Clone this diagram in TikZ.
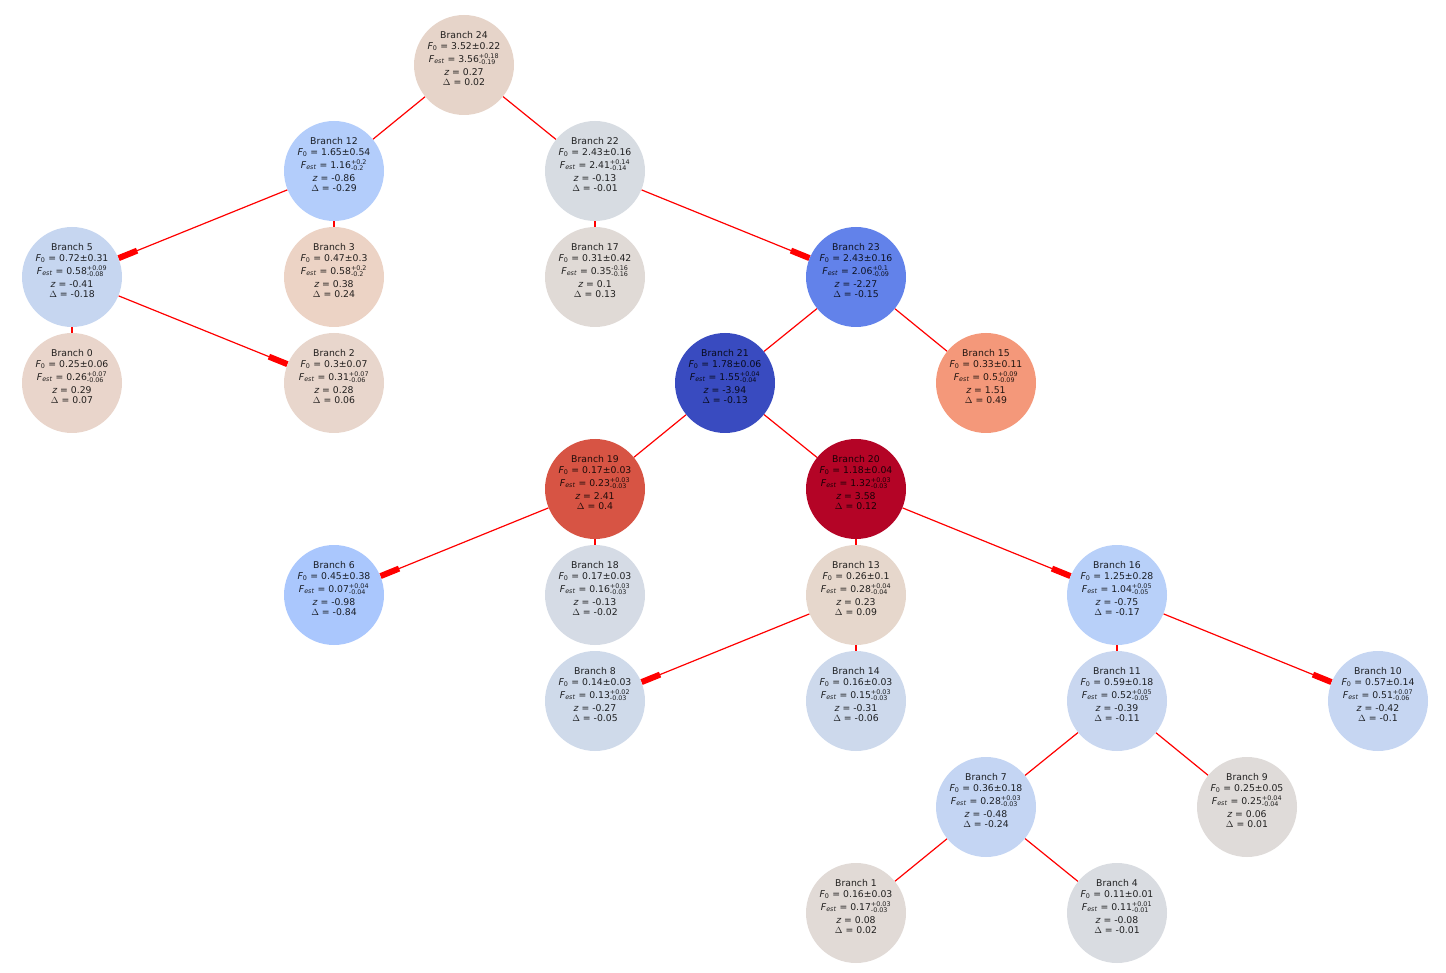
\documentclass[tikz,border=0pt]{standalone}
\usepackage{fontspec}
\usepackage{amsmath}
\setmainfont{DejaVu Sans}
\usetikzlibrary{arrows.meta}
\pgfdeclarelayer{background}
\pgfsetlayers{background,main}
\DeclareMathSizes{9.3}{9.3}{6.4}{5}
\definecolor{c24}{HTML}{E6D4C9}
\definecolor{c12}{HTML}{B3CDFB}
\definecolor{c22}{HTML}{D7DCE2}
\definecolor{c5}{HTML}{C6D6F0}
\definecolor{c3}{HTML}{ECD3C5}
\definecolor{c17}{HTML}{E0DAD6}
\definecolor{c23}{HTML}{6282EA}
\definecolor{c0}{HTML}{E9D5CB}
\definecolor{c2}{HTML}{E8D6CC}
\definecolor{c21}{HTML}{394BC0}
\definecolor{c15}{HTML}{F4987A}
\definecolor{c19}{HTML}{D75444}
\definecolor{c20}{HTML}{B40426}
\definecolor{c6}{HTML}{AAC7FD}
\definecolor{c18}{HTML}{D5DBE5}
\definecolor{c13}{HTML}{E6D7CC}
\definecolor{c16}{HTML}{B8D0F9}
\definecolor{c8}{HTML}{CFDAEA}
\definecolor{c14}{HTML}{CDD9EC}
\definecolor{c11}{HTML}{C9D7F0}
\definecolor{c10}{HTML}{C6D6F2}
\definecolor{c7}{HTML}{C4D5F3}
\definecolor{c9}{HTML}{DFDBD9}
\definecolor{c1}{HTML}{E1DAD6}
\definecolor{c4}{HTML}{D9DCE1}
\newcommand\brinfo[7]{Branch #1\\$\textit{F}_{\text{0}}$ = #2\\[2.5pt]$\textit{F}_{\textit{est}}$ = #3$^{\text{#4}}_{\text{#5}}$\\[2.5pt]$\textit{z}$ = #6\\$\Delta$ = #7\\[2.5pt]\mbox{}}
\begin{document}
\begin{tikzpicture}[x=1pt,y=-1pt,
  br/.style={circle, minimum size=100pt, inner sep=0pt, fill=#1, align=center,
    text=black, text opacity=0.85, font=\fontsize{9.3}{10.5}\selectfont},
  edge/.style={draw=red, line width=1.2pt},
  arr/.style={edge, -{Rectangle[length=20pt,width=6pt]}}]
\useasboundingbox (0,0) rectangle (1446,973);
\node[br=c24] (n24) at (464,65) {\brinfo{24}{3.52±0.22}{3.56}{+0.18}{-0.19}{0.27}{0.02}};
\node[br=c12] (n12) at (334,171) {\brinfo{12}{1.65±0.54}{1.16}{+0.2}{-0.2}{-0.86}{-0.29}};
\node[br=c22] (n22) at (595,171) {\brinfo{22}{2.43±0.16}{2.41}{+0.14}{-0.14}{-0.13}{-0.01}};
\node[br=c5] (n5) at (72,277) {\brinfo{5}{0.72±0.31}{0.58}{+0.09}{-0.08}{-0.41}{-0.18}};
\node[br=c3] (n3) at (334,277) {\brinfo{3}{0.47±0.3}{0.58}{+0.2}{-0.2}{0.38}{0.24}};
\node[br=c17] (n17) at (595,277) {\brinfo{17}{0.31±0.42}{0.35}{-0.16}{-0.16}{0.1}{0.13}};
\node[br=c23] (n23) at (856,277) {\brinfo{23}{2.43±0.16}{2.06}{+0.1}{-0.09}{-2.27}{-0.15}};
\node[br=c0] (n0) at (72,383) {\brinfo{0}{0.25±0.06}{0.26}{+0.07}{-0.06}{0.29}{0.07}};
\node[br=c2] (n2) at (334,383) {\brinfo{2}{0.3±0.07}{0.31}{+0.07}{-0.06}{0.28}{0.06}};
\node[br=c21] (n21) at (725,383) {\brinfo{21}{1.78±0.06}{1.55}{+0.04}{-0.04}{-3.94}{-0.13}};
\node[br=c15] (n15) at (986,383) {\brinfo{15}{0.33±0.11}{0.5}{+0.09}{-0.09}{1.51}{0.49}};
\node[br=c19] (n19) at (595,489) {\brinfo{19}{0.17±0.03}{0.23}{+0.03}{-0.03}{2.41}{0.4}};
\node[br=c20] (n20) at (856,489) {\brinfo{20}{1.18±0.04}{1.32}{+0.03}{-0.03}{3.58}{0.12}};
\node[br=c6] (n6) at (334,595) {\brinfo{6}{0.45±0.38}{0.07}{+0.04}{-0.04}{-0.98}{-0.84}};
\node[br=c18] (n18) at (595,595) {\brinfo{18}{0.17±0.03}{0.16}{+0.03}{-0.03}{-0.13}{-0.02}};
\node[br=c13] (n13) at (856,595) {\brinfo{13}{0.26±0.1}{0.28}{+0.04}{-0.04}{0.23}{0.09}};
\node[br=c16] (n16) at (1117,595) {\brinfo{16}{1.25±0.28}{1.04}{+0.05}{-0.05}{-0.75}{-0.17}};
\node[br=c8] (n8) at (595,701) {\brinfo{8}{0.14±0.03}{0.13}{+0.02}{-0.03}{-0.27}{-0.05}};
\node[br=c14] (n14) at (856,701) {\brinfo{14}{0.16±0.03}{0.15}{+0.03}{-0.03}{-0.31}{-0.06}};
\node[br=c11] (n11) at (1117,701) {\brinfo{11}{0.59±0.18}{0.52}{+0.05}{-0.05}{-0.39}{-0.11}};
\node[br=c10] (n10) at (1378,701) {\brinfo{10}{0.57±0.14}{0.51}{+0.07}{-0.06}{-0.42}{-0.1}};
\node[br=c7] (n7) at (986,807) {\brinfo{7}{0.36±0.18}{0.28}{+0.03}{-0.03}{-0.48}{-0.24}};
\node[br=c9] (n9) at (1247,807) {\brinfo{9}{0.25±0.05}{0.25}{+0.04}{-0.04}{0.06}{0.01}};
\node[br=c1] (n1) at (856,913) {\brinfo{1}{0.16±0.03}{0.17}{+0.03}{-0.03}{0.08}{0.02}};
\node[br=c4] (n4) at (1117,913) {\brinfo{4}{0.11±0.01}{0.11}{+0.01}{-0.01}{-0.08}{-0.01}};
\begin{pgfonlayer}{background}
\draw[edge] (n24) -- (n12);
\draw[edge] (n24) -- (n22);
\draw[arr] (n12) -- (n5);
\draw[edge] (n12) -- (n3);
\draw[edge] (n22) -- (n17);
\draw[arr] (n22) -- (n23);
\draw[edge] (n5) -- (n0);
\draw[arr] (n5) -- (n2);
\draw[edge] (n23) -- (n21);
\draw[edge] (n23) -- (n15);
\draw[edge] (n21) -- (n19);
\draw[edge] (n21) -- (n20);
\draw[arr] (n19) -- (n6);
\draw[edge] (n19) -- (n18);
\draw[edge] (n20) -- (n13);
\draw[arr] (n20) -- (n16);
\draw[arr] (n13) -- (n8);
\draw[edge] (n13) -- (n14);
\draw[edge] (n16) -- (n11);
\draw[arr] (n16) -- (n10);
\draw[edge] (n11) -- (n7);
\draw[edge] (n11) -- (n9);
\draw[edge] (n7) -- (n1);
\draw[edge] (n7) -- (n4);
\end{pgfonlayer}
\end{tikzpicture}
\end{document}
